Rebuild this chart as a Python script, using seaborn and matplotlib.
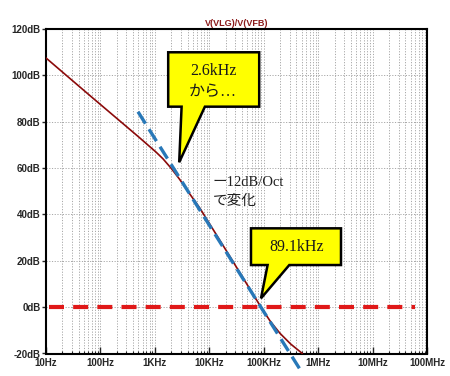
import numpy as np
import pandas as pd
import matplotlib
matplotlib.use("Agg")
import matplotlib.pyplot as plt
import seaborn as sns
from matplotlib.patches import Polygon
from matplotlib.ticker import FixedLocator, LogLocator, NullFormatter

# ---- data ----
gain_freq = [10, 62.5, 256, 500, 1050, 1410, 1980, 2820, 4300, 6750, 24000,
             89100, 132000, 199000, 316000, 513000]
gain_db = [107.5, 91.5, 79.3, 73.5, 66.9, 64.0, 60.0, 55.3, 49.1, 42.6, 21.8,
           0.0, -6.1, -11.3, -16.0, -20.0]

slope_freq = [490, 452000]
slope_db = [84.3, -26.4]

zero_freq = [11.5, 60000000]
zero_db = [0, 0]

x_ticks = [10, 100, 1e3, 1e4, 1e5, 1e6, 1e7, 1e8]
x_labels = ["10Hz", "100Hz", "1KHz", "10KHz", "100KHz", "1MHz", "10MHz", "100MHz"]
y_ticks = [-20, 0, 20, 40, 60, 80, 100, 120]
y_labels = ["-20dB", "0dB", "20dB", "40dB", "60dB", "80dB", "100dB", "120dB"]

title = "V(VLG)/V(VFB)"
callout1_tip = (2800, 62.5)
callout1_text = "2.6kHz\nから…"
callout2_tip = (89100, 3.8)
callout2_text = "89.1kHz"
note_text = "ー12dB/Oct\nで変化"

# ---- figure ----
sns.set_style("white")
plt.rcParams["font.family"] = ["Liberation Sans", "DejaVu Sans"]

W, H = 450, 376
fig = plt.figure(figsize=(W / 100, H / 100), dpi=100)
ax = fig.add_axes([46 / W, 1 - 353.5 / H, (427 - 46) / W, (353.5 - 29) / H])

df_gain = pd.DataFrame({"f": gain_freq, "db": gain_db})
df_slope = pd.DataFrame({"f": slope_freq, "db": slope_db})
df_zero = pd.DataFrame({"f": zero_freq, "db": zero_db})

sns.lineplot(data=df_zero, x="f", y="db", ax=ax, color="#e01818", lw=3.0,
             sort=False, zorder=3)
ax.lines[-1].set_dashes([3.6, 2.2])
sns.lineplot(data=df_gain, x="f", y="db", ax=ax, color="#8b0a0a", lw=1.2,
             sort=False, zorder=4)
sns.lineplot(data=df_slope, x="f", y="db", ax=ax, color="#2878b8", lw=2.4,
             sort=False, zorder=5)
ax.lines[-1].set_dashes([4.2, 2.0])
ax.lines[-1].set_clip_on(False)

ax.set_xscale("log")
ax.set_xlim(10, 1e8)
ax.set_ylim(-20, 120)
ax.set_xlabel("")
ax.set_ylabel("")

ax.xaxis.set_major_locator(FixedLocator(x_ticks))
ax.set_xticklabels(x_labels)
ax.xaxis.set_minor_locator(LogLocator(base=10, subs=np.arange(2, 10)))
ax.xaxis.set_minor_formatter(NullFormatter())
ax.set_yticks(y_ticks)
ax.set_yticklabels(y_labels)

ax.tick_params(axis="x", which="major", direction="in", length=5, width=1,
               labelsize=7, pad=3, bottom=True)
ax.tick_params(axis="x", which="minor", direction="in", length=2.5, width=0.8,
               bottom=True)
ax.tick_params(axis="y", which="major", direction="out", length=3, width=1,
               labelsize=7, pad=1, left=True)
for lab in ax.get_xticklabels() + ax.get_yticklabels():
    lab.set_fontweight("bold")

ax.grid(True, which="major", axis="both", color="#a8a8a8", lw=0.7,
        linestyle=(0, (1.2, 1.6)))
ax.grid(True, which="minor", axis="x", color="#a8a8a8", lw=0.7,
        linestyle=(0, (1.2, 1.6)))
for s in ax.spines.values():
    s.set_color("black")
    s.set_linewidth(1.5)

ax.set_title(title, fontsize=6.5, fontweight="bold", color="#8b1a1a", pad=2)

# ---- callouts (speech bubbles) ----
def bubble(tip, box, base, text, tx, ty):
    px, py = ax.transData.transform(tip)
    L, R, T, B = box
    bl, br = base
    verts = [(px + L, py + B), (px + bl, py + B), (px, py), (px + br, py + B),
             (px + R, py + B), (px + R, py + T), (px + L, py + T)]
    poly = Polygon(verts, closed=True, transform=None, facecolor="#ffff00",
                   edgecolor="black", lw=1.8, joinstyle="miter", zorder=10)
    fig.patches.append(poly)
    fig.text((px + tx) / W, (py + ty) / H, text, ha="center", va="center",
             fontsize=11.5, family=["Liberation Serif", "Noto Sans CJK JP"],
             linespacing=1.45, color="#1a1a1a", zorder=11)

bubble(callout1_tip, (-11, 80, 110, 55.6), (2.4, 25.7), callout1_text, 34, 81)
bubble(callout2_tip, (-10, 80, 70, 33.3), (6.6, 28.3), callout2_text, 35.3, 51)

fig.text(213 / W, 1 - 192 / H, note_text, ha="left", va="center",
         fontsize=10.5, family=["Liberation Serif", "Noto Sans CJK JP"],
         linespacing=1.5, color="#202020")

fig.savefig("out.png", dpi=100)
